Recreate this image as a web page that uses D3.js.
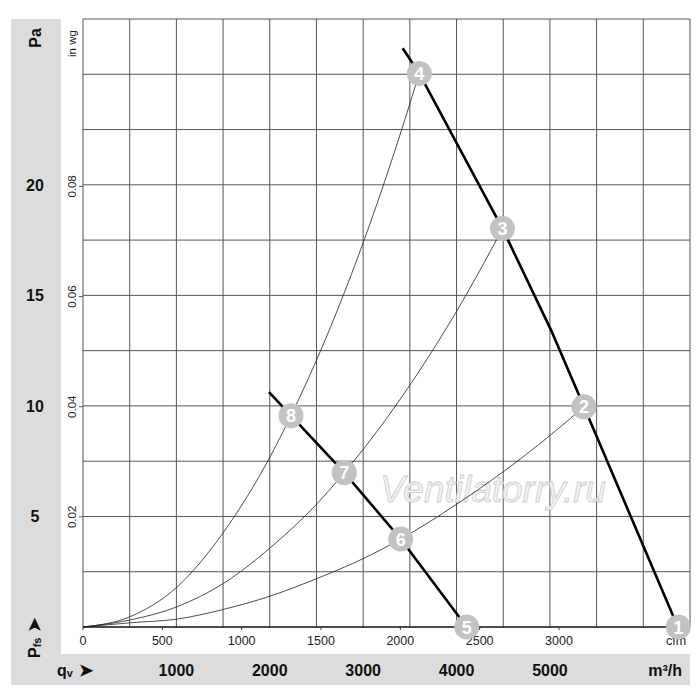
<!DOCTYPE html>
<html>
<head>
<meta charset="utf-8">
<script src="https://cdn.jsdelivr.net/npm/d3@7"></script>
<style>
  body { margin: 0; background: #fff; }
  text { font-family: "Liberation Sans", Arial, sans-serif; }
</style>
</head>
<body>
<svg id="fan-plot" width="700" height="700"></svg>
<script>
// values (flow in m3/h, pressure in Pa)
const fanHigh = [[3423, 26.18], [3601, 25.04], [4492, 18.02], [5012, 13.43], [5365, 9.96], [6370, 0]];
const fanLow = [[1992, 10.62], [2227, 9.56], [2798, 6.98], [3402, 3.98], [4109, 0]];

const systemA = [[0, 0], [506, 0.19], [1010, 0.36], [1507, 0.80], [2006, 1.40], [2509, 2.20],
  [3009, 3.11], [3402, 3.98], [4000, 5.55], [4500, 7.02], [5000, 8.66], [5365, 9.96]];
const systemB = [[0, 0], [506, 0.32], [1010, 0.92], [1507, 1.98], [2006, 3.59], [2509, 5.59],
  [2798, 6.98], [3250, 9.43], [3700, 12.22], [4100, 15.0], [4492, 18.02]];
const systemC = [[0, 0], [506, 0.47], [1010, 1.82], [1507, 4.30], [2006, 7.72], [2227, 9.56],
  [2600, 13.05], [3000, 17.38], [3300, 21.03], [3601, 25.04]];

const markerIds = [1, 2, 3, 4, 5, 6, 7, 8];
const markerFlow = [6375, 5365, 4492, 3601, 4109, 3402, 2798, 2227];
const markerPa = [0, 9.96, 18.02, 25.04, 0, 3.98, 6.98, 9.56];

const cfmTicks = [0, 500, 1000, 1500, 2000, 2500, 3000];
const m3hTicks = [1000, 2000, 3000, 4000, 5000];
const paTicks = [5, 10, 15, 20];
const inwgTicks = [0.02, 0.04, 0.06, 0.08];

const CFM = 1.699011, INWG = 249.089;

const svg = d3.select("#fan-plot");
const plot = { left: 83, right: 690, top: 19, bottom: 627 };

const x = d3.scaleLinear().domain([0, 6500]).range([plot.left, plot.right]);
const y = d3.scaleLinear().domain([0, 27.5]).range([plot.bottom, plot.top]);

// gray label bands
svg.append("rect").attr("x", 11).attr("y", 19).attr("width", 50).attr("height", 666).attr("fill", "#dcdcdc");
svg.append("rect").attr("x", 11).attr("y", 654).attr("width", 679).attr("height", 31).attr("fill", "#dcdcdc");

// grid
const grid = svg.append("g").attr("stroke", "#555").attr("stroke-width", 1);
grid.selectAll(".v").data(d3.range(0, 6501, 500)).join("line")
  .attr("x1", d => x(d)).attr("x2", d => x(d)).attr("y1", plot.top).attr("y2", plot.bottom);
grid.selectAll(".h").data(d3.range(2.5, 27.6, 2.5)).join("line")
  .attr("x1", plot.left).attr("x2", plot.right).attr("y1", d => y(d)).attr("y2", d => y(d));

// bottom axis (cfm)
svg.append("line").attr("x1", plot.left).attr("x2", plot.right).attr("y1", plot.bottom).attr("y2", plot.bottom)
  .attr("stroke", "#111").attr("stroke-width", 1.5);
svg.append("g").selectAll("line").data(cfmTicks).join("line")
  .attr("x1", d => x(d * CFM)).attr("x2", d => x(d * CFM))
  .attr("y1", plot.bottom).attr("y2", plot.bottom + 3).attr("stroke", "#333");
svg.append("g").selectAll("text").data(cfmTicks).join("text")
  .attr("x", d => x(d * CFM)).attr("y", 645)
  .attr("text-anchor", "middle").attr("font-size", 12.5).attr("fill", "#222")
  .text(d => d);
svg.append("text").attr("x", 676).attr("y", 645).attr("text-anchor", "middle")
  .attr("font-size", 12.5).attr("fill", "#222").text("cfm");

// in wg ticks
const yw = d3.scaleLinear().domain([0, 27.5 / INWG]).range([plot.bottom, plot.top]);
svg.append("g").selectAll("line").data(inwgTicks).join("line")
  .attr("x1", plot.left - 4).attr("x2", plot.left).attr("y1", d => yw(d)).attr("y2", d => yw(d))
  .attr("stroke", "#555");
svg.append("g").selectAll("text").data(inwgTicks).join("text")
  .attr("transform", d => `translate(76,${yw(d)}) rotate(-90)`)
  .attr("text-anchor", "middle").attr("font-size", 11.5).attr("fill", "#222")
  .text(d => d.toFixed(2));
svg.append("text").attr("transform", "translate(76,57) rotate(-90)")
  .attr("font-size", 11.5).attr("fill", "#222").text("in wg");

// Pa labels
svg.append("g").selectAll("text").data(paTicks).join("text")
  .attr("x", 35).attr("y", d => y(d) + 6)
  .attr("text-anchor", "middle").attr("font-size", 16).attr("font-weight", "bold").attr("fill", "#111")
  .text(d => d);
svg.append("text").attr("transform", "translate(41,38) rotate(-90)")
  .attr("text-anchor", "middle").attr("font-size", 16).attr("font-weight", "bold").attr("fill", "#111")
  .text("Pa");

// m3/h labels
svg.append("g").selectAll("text").data(m3hTicks).join("text")
  .attr("x", d => x(d)).attr("y", 676)
  .attr("text-anchor", "middle").attr("font-size", 16).attr("font-weight", "bold").attr("fill", "#111")
  .text(d => d);
svg.append("text").attr("x", 682).attr("y", 676).attr("text-anchor", "end")
  .attr("font-size", 16).attr("font-weight", "bold").attr("fill", "#111").text("m³/h");

// qv and Pfs
const qv = svg.append("text").attr("x", 57).attr("y", 676)
  .attr("font-size", 16).attr("font-weight", "bold").attr("fill", "#111");
qv.append("tspan").text("q");
qv.append("tspan").attr("font-size", 11).attr("dy", 1).text("v");
qv.append("tspan").attr("dx", 6).attr("dy", -1).attr("font-size", 17).text("➤");

const pfs = svg.append("text").attr("transform", "translate(40,658) rotate(-90)")
  .attr("font-size", 16).attr("font-weight", "bold").attr("fill", "#111");
pfs.append("tspan").text("P");
pfs.append("tspan").attr("font-size", 11).attr("dy", 1).text("fs");
pfs.append("tspan").attr("dx", 6).attr("dy", -1).attr("font-size", 17).text("➤");

// watermark
svg.append("text").attr("x", 380).attr("y", 502)
  .attr("font-size", 37).attr("font-style", "italic")
  .attr("fill", "#f3f3f3").attr("stroke", "#cdcdcd").attr("stroke-width", 0.8)
  .text("Ventilatorry.ru");

// system curves
const smooth = d3.line().x(d => x(d[0])).y(d => y(d[1])).curve(d3.curveMonotoneX);
svg.append("g").attr("fill", "none").attr("stroke", "#222").attr("stroke-width", 0.8)
  .selectAll("path").data([systemA, systemB, systemC]).join("path")
  .attr("d", smooth);

// fan curves
const straight = d3.line().x(d => x(d[0])).y(d => y(d[1]));
svg.append("g").attr("fill", "none").attr("stroke", "#000").attr("stroke-width", 2.6)
  .selectAll("path").data([fanHigh, fanLow]).join("path")
  .attr("d", straight);

// markers
const mk = svg.append("g").selectAll("g").data(markerIds).join("g")
  .attr("transform", (d, i) => `translate(${x(markerFlow[i])},${y(markerPa[i])})`);
mk.append("circle").attr("r", 12.5).attr("fill", "#c2c2c2");
mk.append("text").attr("text-anchor", "middle").attr("y", 6.5)
  .attr("font-size", 18).attr("font-weight", "bold").attr("fill", "#fff")
  .text(d => d);
</script>
</body>
</html>
